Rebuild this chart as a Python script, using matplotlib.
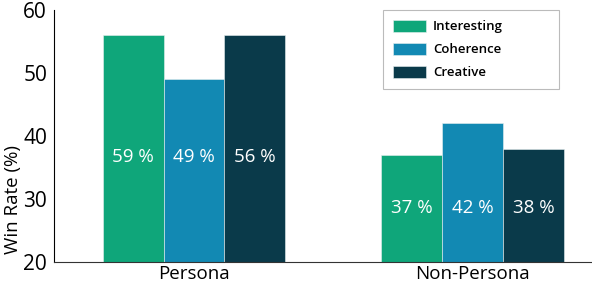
import matplotlib
matplotlib.use("Agg")
import matplotlib.pyplot as plt
import numpy as np

plt.rcParams['font.family'] = ['Open Sans', 'DejaVu Sans']

groups = ["Persona", "Non-Persona"]
series = ["Interesting", "Coherence", "Creative"]
interesting = [56, 37]
coherence = [49, 42]
creative = [56, 38]
labels_interesting = ["59 %", "37 %"]
labels_coherence = ["49 %", "42 %"]
labels_creative = ["56 %", "38 %"]
label_y = [36.7, 28.6]

colors = ["#0fa67a", "#1289b3", "#0a3a4a"]

fig = plt.figure(figsize=(5.92, 2.86), dpi=100)
ax = fig.add_axes([54/592, 1 - 262/286, 1 - 54/592, (262 - 10)/286])

x = np.arange(len(groups))
w = 0.2186
vals = [interesting, coherence, creative]
labs = [labels_interesting, labels_coherence, labels_creative]
for i, (v, lab, c, name) in enumerate(zip(vals, labs, colors, series)):
    pos = x + (i - 1) * w
    ax.bar(pos, np.array(v) - 20, bottom=20, width=w, color=c, label=name,
           edgecolor='#e8f0f0', linewidth=0.4)
    for p, t, yy in zip(pos, lab, label_y):
        ax.text(p, yy, t, ha='center', va='center', color='white', fontsize=13.5)

ax.set_ylim(20, 60)
ax.set_xlim(-0.502, 1.427)
ax.set_yticks([20, 30, 40, 50, 60])
ax.set_xticks(x)
ax.set_xticklabels(groups, fontsize=13.5)
ax.tick_params(axis='y', labelsize=15, length=0, pad=5)
ax.tick_params(axis='x', length=0, pad=2)
fig.text(13/592, 1 - 200/286, "Win Rate (%)", rotation=90, ha='center', va='center',
         fontsize=13.5)
for s in ['top', 'right']:
    ax.spines[s].set_visible(False)
ax.spines['left'].set_color('black')
ax.spines['bottom'].set_color('#333333')

leg = ax.legend(loc='upper left', bbox_to_anchor=((383-54)/538, 0.0, 176/538, 1.0),
                mode='expand', borderaxespad=0,
                prop={'size': 9.5, 'weight': 600},
                frameon=True, fancybox=False, edgecolor='#aaaaaa',
                handlelength=2.5, handleheight=1.0, handletextpad=0.55,
                borderpad=0.75, labelspacing=0.72)
leg.get_frame().set_linewidth(0.8)

fig.savefig("out.png", dpi=100)
